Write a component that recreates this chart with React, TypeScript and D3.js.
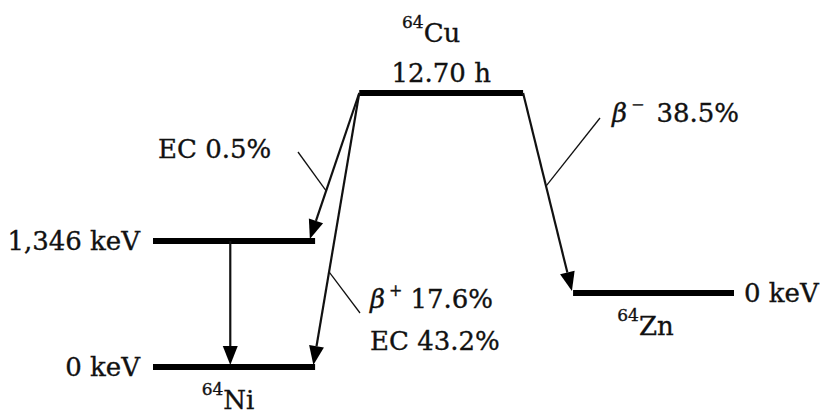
import React from "react";
import * as d3 from "d3";

const W = 821;
const H = 416;

// Energy levels (schematic units: x 0..100, y 0..100)
const levelNames = ["Cu64", "Ni1346", "Ni0", "Zn0"];
const levelStart = [35.5, 0, 0, 72.3];
const levelEnd = [63.7, 27.9, 27.9, 100];
const levelHeight = [100, 46, 0, 27];
const levelEnergyLabels = ["", "1,346 keV", "0 keV", "0 keV"];

// Transitions (schematic units)
const transNames = ["EC1", "BplusEC", "gamma", "Bminus"];
const transFromX = [35.5, 35.5, 13.3, 63.7];
const transFromLevel = ["Cu64", "Cu64", "Ni1346", "Cu64"];
const transToX = [27.0, 27.6, 13.3, 72.1];
const transToLevel = ["Ni1346", "Ni0", "Ni0", "Zn0"];

// Nuclide labels
const nuclideMass = ["64", "64", "64"];
const nuclideSymbol = ["Cu", "Ni", "Zn"];
const halfLife = "12.70 h";

// Branch labels
const branchEC1 = "EC 0.5%";
const branchBplus = "17.6%";
const branchEC2 = "EC 43.2%";
const branchBminus = "38.5%";

const FONT = "'DejaVu Serif', 'Liberation Serif', serif";
const FS = 26;

export default function App() {
  const x = d3.scaleLinear().domain([0, 100]).range([153, 734]);
  const y = d3.scaleLinear().domain([0, 100]).range([367, 93]);

  const lvl = (name: string) => levelNames.indexOf(name);

  const arrows = transNames.map((n, i) => {
    const x0 = x(transFromX[i]);
    const y0 = y(levelHeight[lvl(transFromLevel[i])]);
    const x1 = x(transToX[i]);
    const y1 = y(levelHeight[lvl(transToLevel[i])]) - 2;
    const dx = x1 - x0;
    const dy = y1 - y0;
    const len = Math.hypot(dx, dy);
    const ux = dx / len;
    const uy = dy / len;
    const headL = 19;
    const headW = 7.5;
    const bx = x1 - ux * headL;
    const by = y1 - uy * headL;
    const px = -uy;
    const py = ux;
    const head = [
      [x1, y1],
      [bx + px * headW, by + py * headW],
      [bx - px * headW, by - py * headW],
    ];
    const at = (t: number) => [x0 + dx * t, y0 + dy * t];
    return { n, x0, y0, x1, y1, bx, by, head, at };
  });

  const pt = (name: string, t: number) => arrows[transNames.indexOf(name)].at(t);

  const ec1 = pt("EC1", 0.67);
  const bp = pt("BplusEC", 0.658);
  const bm = pt("Bminus", 0.47);

  const cu = lvl("Cu64");
  const ni1 = lvl("Ni1346");
  const ni0 = lvl("Ni0");
  const zn = lvl("Zn0");
  const mid = (i: number) => (x(levelStart[i]) + x(levelEnd[i])) / 2;

  const line = d3.line();

  const Nuclide = ({ cx, by, k }: { cx: number; by: number; k: number }) => (
    <text
      x={cx}
      y={by}
      textAnchor="middle"
      fontFamily={FONT}
      fontSize={FS}
      fill="#111"
      stroke="#111"
      strokeWidth={0.35}
    >
      <tspan fontSize={17} dy={-14}>{nuclideMass[k]}</tspan>
      <tspan dy={14}>{nuclideSymbol[k]}</tspan>
    </text>
  );

  return (
    <svg
      width={W}
      height={H}
      style={{ position: "absolute", left: 0, top: 0, background: "#fff" }}
    >
      <rect width={W} height={H} fill="#fff" />
      {/* levels */}
      {levelNames.map((n, i) => (
        <line
          key={n}
          x1={x(levelStart[i])}
          x2={x(levelEnd[i])}
          y1={y(levelHeight[i])}
          y2={y(levelHeight[i])}
          stroke="#000"
          strokeWidth={6}
        />
      ))}
      {/* transitions */}
      {arrows.map((a) => (
        <g key={a.n}>
          <path
            d={line([[a.x0, a.y0], [a.bx, a.by]]) || ""}
            stroke="#111"
            strokeWidth={2.2}
            fill="none"
          />
          <path d={(line(a.head as [number, number][]) || "") + "Z"} fill="#000" />
        </g>
      ))}
      {/* leader lines */}
      <g stroke="#111" strokeWidth={1.3}>
        <line x1={ec1[0]} y1={ec1[1]} x2={298} y2={152} />
        <line x1={bp[0]} y1={bp[1]} x2={360} y2={313} />
        <line x1={bm[0]} y1={bm[1]} x2={600} y2={118} />
      </g>
      {/* labels */}
      <g fontFamily={FONT} fontSize={FS} fill="#111" stroke="#111" strokeWidth={0.35}>
        <text x={x(levelStart[ni1]) - 13} y={y(levelHeight[ni1]) + 9} textAnchor="end">
          {levelEnergyLabels[ni1]}
        </text>
        <text x={x(levelStart[ni0]) - 13} y={y(levelHeight[ni0]) + 9} textAnchor="end">
          {levelEnergyLabels[ni0]}
        </text>
        <text x={x(levelEnd[zn]) + 10} y={y(levelHeight[zn]) + 9} textAnchor="start">
          {levelEnergyLabels[zn]}
        </text>
        <text x={mid(cu)} y={y(levelHeight[cu]) - 11} textAnchor="middle">
          {halfLife}
        </text>
        <text x={158} y={158}>{branchEC1}</text>
        <text x={370} y={308}>
          <tspan fontStyle="italic">β</tspan>
          <tspan fontSize={16} dy={-12} dx={4}>+</tspan>
          <tspan dy={12} dx={8}>{branchBplus}</tspan>
        </text>
        <text x={370} y={350}>{branchEC2}</text>
        <text x={612} y={122}>
          <tspan fontStyle="italic">β</tspan>
          <tspan fontSize={16} dy={-12} dx={4}>−</tspan>
          <tspan dy={12} dx={12}>{branchBminus}</tspan>
        </text>
      </g>
      <Nuclide cx={mid(cu) - 10} by={y(levelHeight[cu]) - 51} k={0} />
      <Nuclide cx={mid(ni0) - 6} by={y(levelHeight[ni0]) + 42} k={1} />
      <Nuclide cx={mid(zn) - 8} by={y(levelHeight[zn]) + 42} k={2} />
    </svg>
  );
}
